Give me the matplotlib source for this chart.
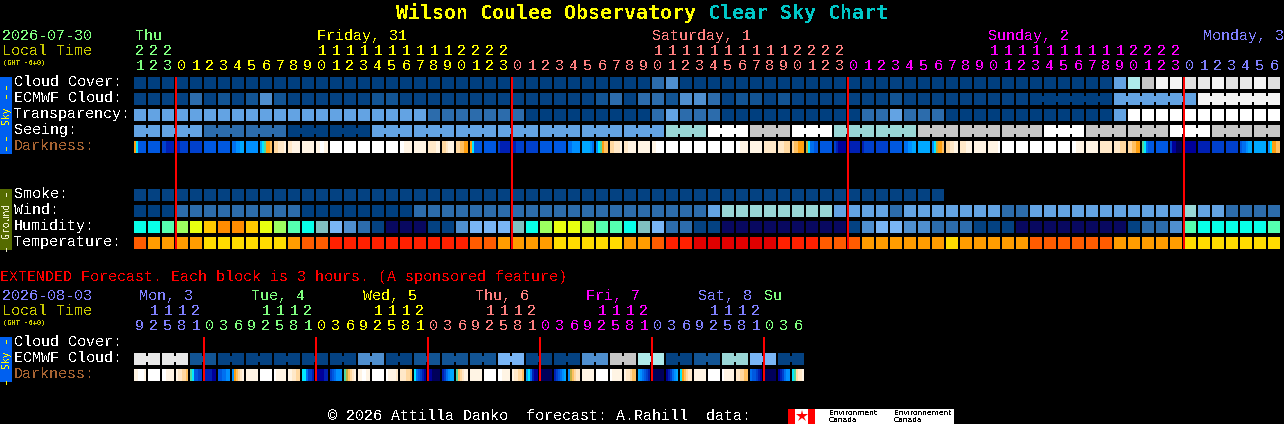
import matplotlib
matplotlib.use("Agg")
import matplotlib.pyplot as plt

plt.rcParams['font.family'] = ['Liberation Mono', 'DejaVu Sans Mono']
plt.rcParams['text.antialiased'] = False

# one char per hourly block, see block_colors
cloud_cover = ("000" + "000000000000000000000000"
    + "000000000034000000000000"
    + "000100000000000000" + "15tgjj"
    + "hijhijh")
ecmwf_cloud = ("111" + "131212421111112211111111"
    + "111111231332443122121111"
    + "111211111111100000055555"
    + "5jjjjjj")
transparency = ("555" + "555555555555555555333333"
    + "300000000035333000000000"
    + "0335333" + "000000000000" + "5wwww"
    + "wwwwwww")
seeing = ("555" + "553333330000005555555555"
    + "55555555555777wwwgggwww7"
    + "77777ggggggggg" + "www" + "ggggggw"
    + "wwggggg")
wind = ("000" + "333333333000000003333333"
    + "333333333333335777777775"
    + "555355555553355555555555"
    + "7553333")
smoke = "1" * 58
humidity = ("ccm" + "lygoogylmcT643" + "1nnn" + "114666"
    + "TclyylmmcT63311nnnnnnnnn"
    + "146644333111nnnnnnnn1334"
    + "mcccccm")
temperature = ("ROO" + "OOYYYYYYORRrrrrrrrrrrRRO"
    + "OOOYYYYYOORrrDDDDDDrrrRR"
    + "ROOOOOOYOOOOORRRRRROOOOO"
    + "YYYYYYY")

# each block of the darkness row is 6 strips, see dark_colors
darkness = [
    "b84444", "444444", "332222",
    "223333", "333333", "444444", "444444", "556677", "666666", "789bbc", "ddeeef", "eeffff",
    "ffffff", "ffggff", "gggggg", "gggggg", "gggggg", "gggggg", "gggggg", "ggffff", "ffffff",
    "eeeeff", "ddefff", "ddccbb", "b84444", "444444", "322222",
    "223333", "333333", "444444", "444444", "556666", "777765", "689bcc",
    "ddeeef", "eeffff", "ffffff", "ffgggg", "gggggg", "gggggg", "gggggg", "gggggg", "gggggg",
    "ggffff", "ffffff", "eeeeee", "eeeddd", "dccbbb", "a85544", "444444", "321111", "122222",
    "233333", "333333", "444444", "556677", "777777", "68abbc",
    "ddeeff", "eeefff", "ffffff", "fffffg", "gggggg", "gggggg", "gggggg", "gggggg", "gggggg",
    "ggffff", "ffffff", "eeeeee", "eeeddd", "ddccbb", "985444", "444444", "311000",
    "111111", "222222", "333333", "333333", "455677", "777777", "68bbcc",
]

ext_ecmwf = ("iiii2211" + "11111111" + "44" + "11" + "22" + "22" + "22" + "66"
    + "1111" + "44" + "gg" + "tt" + "11" + "22" + "77" + "66" + "11")
ext_darkness = [
    "ffgggf", "gggggg", "ggffff", "feeddc", "984433", "222211", "445566", "6bcdef",
    "ffffff", "gggggg", "gfffff", "ffeedd", "885332", "111122", "345666", "9acdef",
    "ffggff", "gggggg", "gffffe", "eeeddc", "854321", "110000", "235677", "9cdeff",
    "ffffff", "gggggg", "ggffff", "feeddc", "785211", "000000", "234567", "6acdee",
    "ffffff", "gggggg", "gfffff", "feedcc", "765432", "000000", "123567", "8bcdee",
    "ffffff", "gggggg", "gfffff", "eeddcc", "544321", "000000", "123566", "89deef",
]

hours = [21, 22, 23] + list(range(24)) * 3 + [0, 1, 2, 3, 4, 5, 6]
ext_hours = [9, 12, 15, 18, 21] + [0, 3, 6, 9, 12, 15, 18, 21] * 5 + [0, 3, 6]

green = '#80ff80'
yellow = '#ffff00'
salmon = '#ff8080'
magenta = '#ff00ff'
blue = '#8080ff'

day_starts = [0, 3, 27, 51, 75]
day_cols = [green, yellow, salmon, magenta, blue]
day_labels = ["Thu", "Friday, 31", "Saturday, 1", "Sunday, 2", "Monday, 3"]
day_label_x = [135, 317, 652, 988, 1203]

ext_starts = [0, 5, 13, 21, 29, 37, 45]
ext_cols = [blue, green, yellow, salmon, magenta, blue, green]
ext_labels = ["Mon, 3", "Tue, 4", "Wed, 5", "Thu, 6", "Fri, 7", "Sat, 8", "Su"]
ext_label_x = [139, 251, 363, 475, 586, 698, 764]

midnights = [3, 27, 51, 75]
ext_midnights = [5, 13, 21, 29, 37, 45]

block_colors = {
    '0': '#003f7f', '1': '#044282', '2': '#125494', '3': '#2c6cac', '4': '#4f8fcf',
    '5': '#63a3e3', '6': '#79b5f5', '7': '#99d6d6', 't': '#aeeaea', 'g': '#c6c6c6',
    'h': '#e0e0e0', 'i': '#e8e8e8', 'j': '#f4f4f4', 'w': '#ffffff',
    'n': '#080860', 'T': '#80c0c0', 'c': '#08ffe8', 'm': '#55ffb0', 'l': '#9cff60',
    'y': '#e8ff10', 'o': '#ff8c00',
    'R': '#ff5c00', 'O': '#ff9c00', 'Y': '#ffdc00', 'r': '#ff2000', 'D': '#e00000',
}
hum_colors = dict(block_colors, g='#ffc800')
dark_colors = {
    '0': '#00005a', '1': '#00009a', '2': '#0020b4', '3': '#0040cc', '4': '#0058e0',
    '5': '#0070f0', '6': '#0090ff', '7': '#00a8ff', '8': '#00e8ff', '9': '#50d8a0',
    'a': '#c0b040', 'b': '#ffa010', 'c': '#ffc060', 'd': '#ffd8a0', 'e': '#ffe8c8',
    'f': '#fff4e4', 'g': '#ffffff',
}

LEFT = 134
STEP = 14
SIZE = 12
CHAR = 15 * 0.72  # 9px wide mono chars

fig = plt.figure(figsize=(12.84, 4.24), dpi=100, facecolor='black')
ax = fig.add_axes([0, 0, 1, 1])
ax.set_xlim(0, 1284)
ax.set_ylim(424, 0)
ax.axis('off')


def col_x(i):
    return LEFT + i * STEP


def draw_row(levels, top, palette=block_colors):
    xs = [col_x(i) for i in range(len(levels))]
    cols = [palette[c] for c in levels]
    ax.bar(xs, SIZE, width=SIZE, bottom=top, align='edge', color=cols, linewidth=0)


def draw_joins(levels, top, groups, palette=block_colors):
    # small bridges between blocks of one forecast step
    for first, last in groups:
        for i in range(first, last):
            ax.bar(col_x(i) + SIZE, 6, width=STEP - SIZE, bottom=top + 3, align='edge',
                   color=palette[levels[i]], linewidth=0)


def draw_darkness(blocks, top):
    for i, strips in enumerate(blocks):
        for j, c in enumerate(strips):
            ax.bar(col_x(i) + j * 2, SIZE, width=2, bottom=top, align='edge',
                   color=dark_colors[c], linewidth=0)


def put(x, y, s, color, size=CHAR, weight='normal', **kw):
    ax.text(x, y, s, color=color, fontsize=size, fontweight=weight, va='baseline', **kw)


def draw_hours(hour_list, starts, cols, tens_y, units_y):
    for i, h in enumerate(hour_list):
        k = sum(1 for s in starts if s <= i) - 1
        cx = col_x(i) + 6
        if h >= 10:
            put(cx, tens_y, str(h // 10), cols[k], ha='center')
        put(cx, units_y, str(h % 10), cols[k], ha='center')


# title
put(396, 19, "Wilson Coulee Observatory", '#ffff00', size=14.4, weight='bold', family='DejaVu Sans Mono')
put(708, 19, "Clear Sky Chart", '#00c8c8', size=14.4, weight='bold', family='DejaVu Sans Mono')

# main chart header
put(2, 40, "2026-07-30", green)
put(2, 55, "Local Time", '#c8c800')
put(3, 65, "(GMT -6+0)", '#c8c800', size=5, weight='bold', family='DejaVu Sans Mono')
for x, s, c in zip(day_label_x, day_labels, day_cols):
    put(x, 40, s, c)
draw_hours(hours, day_starts, day_cols, 55, 70)

# sky rows
sky_names = ["Cloud Cover:", "ECMWF Cloud:", "Transparency:", "Seeing:", "Darkness:"]
sky_tops = [77, 93, 109, 125, 141]
for name, top in zip(sky_names, sky_tops):
    put(14, top + 9, name, '#a86432' if name == "Darkness:" else 'white')

draw_row(cloud_cover, 77)
draw_row(ecmwf_cloud, 93)
draw_joins(ecmwf_cloud, 93, [(64, 69), (70, 75), (76, 81)])
draw_row(transparency, 109)
draw_row(seeing, 125)
seeing_groups = [(0, 1)] + [(i, min(i + 2, 81)) for i in range(2, 82, 3)]
draw_joins(seeing, 125, seeing_groups)
draw_darkness(darkness, 141)

# ground rows
ground_names = ["Smoke:", "Wind:", "Humidity:", "Temperature:"]
ground_tops = [189, 205, 221, 237]
for name, top in zip(ground_names, ground_tops):
    put(14, top + 9, name, 'white')
draw_row(smoke, 189)
draw_row(wind, 205)
draw_row(humidity, 221, hum_colors)
draw_row(temperature, 237)

# midnight markers
for c in midnights:
    ax.bar(col_x(c) - 1, 172, width=2, bottom=77, align='edge', color='#ff0000', linewidth=0,
           zorder=5, snap=False)

# extended forecast
put(0, 281, "EXTENDED Forecast. Each block is 3 hours. (A sponsored feature)", '#ff0000')
put(2, 300, "2026-08-03", blue)
put(2, 315, "Local Time", '#c8c800')
put(3, 325, "(GMT -6+0)", '#c8c800', size=5, weight='bold', family='DejaVu Sans Mono')
for x, s, c in zip(ext_label_x, ext_labels, ext_cols):
    put(x, 300, s, c)
draw_hours(ext_hours, ext_starts, ext_cols, 315, 330)

ext_names = ["Cloud Cover:", "ECMWF Cloud:", "Darkness:"]
ext_tops = [337, 353, 369]
for name, top in zip(ext_names, ext_tops):
    put(14, top + 9, name, '#a86432' if name == "Darkness:" else 'white')

draw_row(ext_ecmwf, 353)
draw_joins(ext_ecmwf, 353, [(i, i + 1) for i in range(0, 48, 2)])
draw_darkness(ext_darkness, 369)
for c in ext_midnights:
    ax.bar(col_x(c) - 1, 44, width=2, bottom=337, align='edge', color='#ff0000', linewidth=0,
           zorder=5, snap=False)

# side bars
ax.bar(0, 77, width=12, bottom=77, align='edge', color='#0060f0', linewidth=0)
ax.bar(0, 61, width=12, bottom=189, align='edge', color='#556b00', linewidth=0)
ax.bar(0, 45, width=12, bottom=337, align='edge', color='#0060f0', linewidth=0)


def side_text(y, s, color, size=7):
    ax.text(6, y, s, color=color, fontsize=size, rotation=90, ha='center', va='center',
            family='DejaVu Sans Mono')


for y in [85, 94, 136, 146]:
    side_text(y, "-", '#ffff00', 10)
side_text(115, "Sky", '#ffff00')
for y in [192, 247]:
    side_text(y, "-", '#f0f0d0', 10)
side_text(220, "Ground", '#f0f0d0')
for y in [339, 380]:
    side_text(y, "-", '#ffff00', 10)
side_text(359, "Sky", '#ffff00')

# footer
put(328, 420, "\u00a9 2026 Attilla Danko  forecast: A.Rahill  data:", 'white')
ax.bar(788, 15, width=166, bottom=409, align='edge', color='white', linewidth=0)
ax.bar(788, 15, width=7, bottom=409, align='edge', color='#ff0000', linewidth=0)
ax.bar(808, 15, width=7, bottom=409, align='edge', color='#ff0000', linewidth=0)
ax.plot([801.5], [416], marker='*', color='#ff0000', markersize=9, markeredgewidth=0)
for x, a in zip([829, 894], ["Environment", "Environnement"]):
    ax.text(x, 415, a, color='black', fontsize=5.4, family='DejaVu Sans', va='baseline')
    ax.text(x, 422, "Canada", color='black', fontsize=5.4, family='DejaVu Sans', va='baseline')

fig.savefig("out.png", dpi=100, facecolor='black')
